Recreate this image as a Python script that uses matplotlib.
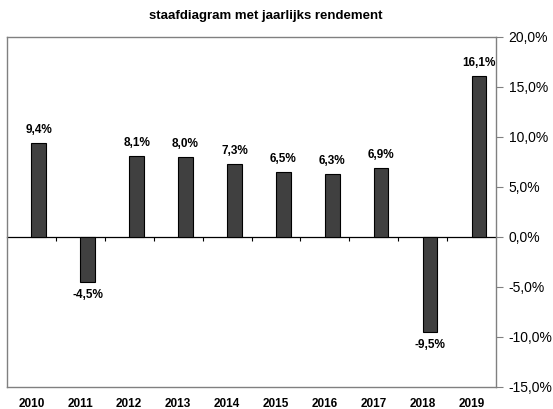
import matplotlib
matplotlib.use("Agg")
import matplotlib.pyplot as plt
from matplotlib.ticker import FuncFormatter

plt.rcParams['font.family'] = ['Liberation Sans', 'DejaVu Sans']

years = ['2010', '2011', '2012', '2013', '2014', '2015', '2016', '2017', '2018', '2019']
returns = [9.4, -4.5, 8.1, 8.0, 7.3, 6.5, 6.3, 6.9, -9.5, 16.1]
yticks = [-15, -10, -5, 0, 5, 10, 15, 20]

fig = plt.figure(figsize=(5.53, 4.09), dpi=100)
ax = fig.add_axes([7/553, 1 - 387/409, 489/553, 350/409])

x = list(range(len(years)))
shift = 0.15
xb = [xi + shift for xi in x]
ax.bar(xb, returns, width=0.3, color='#404040', edgecolor='black', linewidth=0.8, zorder=3)

ax.set_xlim(-0.5, len(years) - 0.5)
ax.set_ylim(-15, 20)

for xi, v in zip(xb, returns):
    lbl = f"{v:.1f}%".replace('.', ',')
    if v >= 0:
        ax.annotate(lbl, (xi, v), xytext=(0, 5), textcoords='offset points',
                    ha='center', va='bottom', fontsize=8.5, fontweight='bold')
    else:
        ax.annotate(lbl, (xi, v), xytext=(0, -5), textcoords='offset points',
                    ha='center', va='top', fontsize=8.5, fontweight='bold')

ax.yaxis.tick_right()
ax.set_yticks(yticks)
ax.yaxis.set_major_formatter(FuncFormatter(lambda v, p: f"{v:.1f}%".replace('.', ',')))
ax.tick_params(axis='y', direction='out', length=5, width=0.8, colors='#808080',
               labelcolor='black', labelsize=10, pad=4)
ax.set_xticks(x)
ax.set_xticklabels(years, fontweight='bold', fontsize=8.5)
ax.tick_params(axis='x', length=0, pad=8)

# category axis crossing at zero, with boundary tick marks
sec = ax.secondary_xaxis(15/35)
sec.set_xticks([xi + 0.5 for xi in x[:-1]])
sec.set_xticklabels([])
sec.tick_params(axis='x', direction='out', length=3, width=0.8, colors='black')
sec.spines['bottom'].set_color('black')
sec.spines['bottom'].set_linewidth(0.9)
sec.spines['bottom'].set_zorder(5)

for s in ax.spines.values():
    s.set_color('#808080')
    s.set_linewidth(1.0)

fig.text(266/553, 1 - 16/409, 'staafdiagram met jaarlijks rendement',
         ha='center', va='center', fontsize=9.5, fontweight='bold')

fig.savefig('out.png', dpi=100)
